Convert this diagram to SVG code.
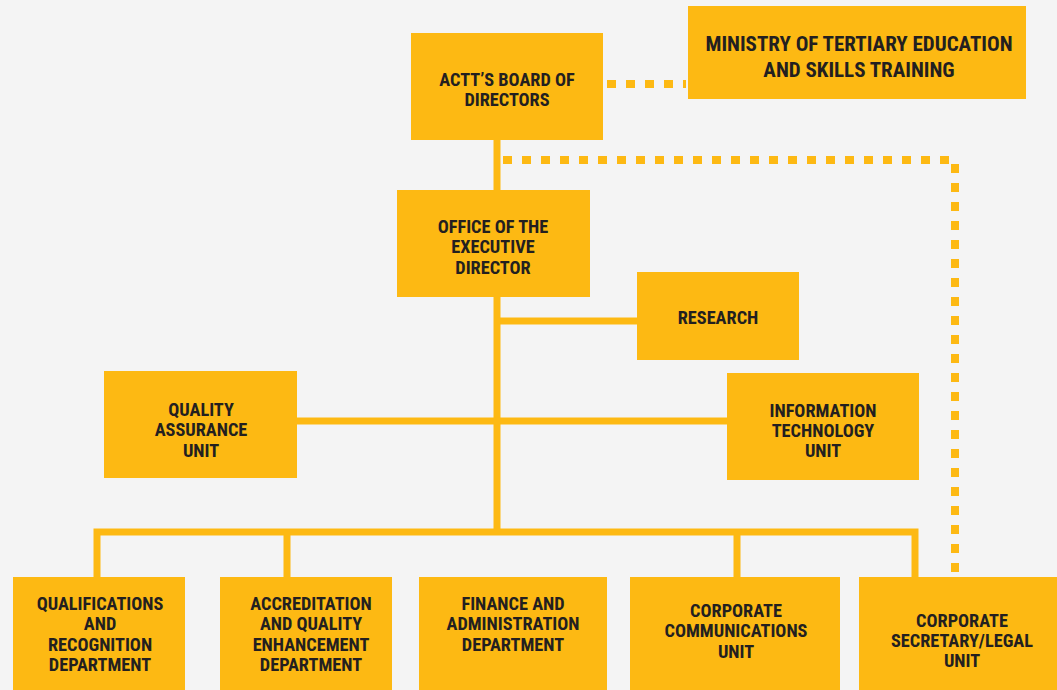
<svg xmlns="http://www.w3.org/2000/svg" width="1057" height="690" viewBox="0 0 1057 690">
<style>
.box{fill:#FDB913}
.t{font-family:"Liberation Sans Narrow","Roboto Condensed","Liberation Sans",sans-serif;font-weight:bold;font-size:18.3px;fill:#231F20;text-anchor:middle}
.big{font-size:21px}
.solid{stroke:#FDB913;stroke-width:7;fill:none}
.dot{stroke:#FDB913;stroke-width:8;fill:none;stroke-dasharray:9 10}
</style>
<rect width="1057" height="690" fill="#F4F4F4"/>
<g id="connectors">
<path class="dot" d="M607 84 H686"/>
<path class="dot" d="M503 160 H955 V574"/>
<path class="solid" d="M497 140 V532"/>
<path class="solid" d="M497 321 H637"/>
<path class="solid" d="M297 421 H727"/>
<path class="solid" d="M97 577 V532 H915 V577"/>
<path class="solid" d="M287 532 V577"/>
<path class="solid" d="M737 532 V577"/>
</g>
<g id="board"><rect class="box" x="411" y="33" width="192" height="107"/>
<text class="t" x="507" y="86">ACTT’S BOARD OF</text><text class="t" x="507" y="106">DIRECTORS</text></g>
<g id="ministry"><rect class="box" x="688" y="6" width="338" height="93"/>
<text class="t big" x="859" y="51">MINISTRY OF TERTIARY EDUCATION</text><text class="t big" x="859" y="77">AND SKILLS TRAINING</text></g>
<g id="office"><rect class="box" x="397" y="190" width="193" height="107"/>
<text class="t" x="493" y="233">OFFICE OF THE</text><text class="t" x="493" y="253">EXECUTIVE</text><text class="t" x="493" y="274">DIRECTOR</text></g>
<g id="research"><rect class="box" x="637" y="272" width="162" height="88"/>
<text class="t" x="718" y="324">RESEARCH</text></g>
<g id="qa"><rect class="box" x="104" y="371" width="193" height="107"/>
<text class="t" x="201" y="416">QUALITY</text><text class="t" x="201" y="436">ASSURANCE</text><text class="t" x="201" y="457">UNIT</text></g>
<g id="it"><rect class="box" x="727" y="373" width="192" height="107"/>
<text class="t" x="823" y="417">INFORMATION</text><text class="t" x="823" y="437">TECHNOLOGY</text><text class="t" x="823" y="457">UNIT</text></g>
<g id="qualifications"><rect class="box" x="13" y="577" width="172" height="113"/>
<text class="t" x="100" y="610">QUALIFICATIONS</text><text class="t" x="100" y="630">AND</text><text class="t" x="100" y="651">RECOGNITION</text><text class="t" x="100" y="671">DEPARTMENT</text></g>
<g id="accreditation"><rect class="box" x="220" y="577" width="172" height="113"/>
<text class="t" x="311" y="610">ACCREDITATION</text><text class="t" x="311" y="630">AND QUALITY</text><text class="t" x="311" y="651">ENHANCEMENT</text><text class="t" x="311" y="671">DEPARTMENT</text></g>
<g id="finance"><rect class="box" x="419" y="577" width="188" height="113"/>
<text class="t" x="513" y="610">FINANCE AND</text><text class="t" x="513" y="630">ADMINISTRATION</text><text class="t" x="513" y="651">DEPARTMENT</text></g>
<g id="communications"><rect class="box" x="630" y="577" width="210" height="113"/>
<text class="t" x="736" y="617">CORPORATE</text><text class="t" x="736" y="637">COMMUNICATIONS</text><text class="t" x="736" y="658">UNIT</text></g>
<g id="secretary"><rect class="box" x="859" y="577" width="198" height="113"/>
<text class="t" x="962" y="627">CORPORATE</text><text class="t" x="962" y="647">SECRETARY/LEGAL</text><text class="t" x="962" y="667">UNIT</text></g>
</svg>
